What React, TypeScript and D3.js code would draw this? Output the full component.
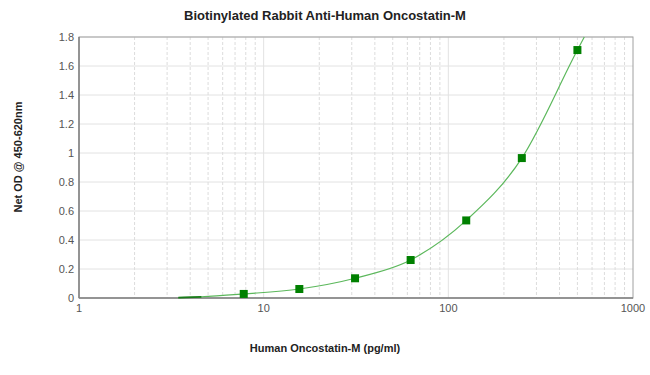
import React from "react";
import * as d3 from "d3";

const concentrations = [7.8, 15.6, 31.25, 62.5, 125, 250, 500];
const odValues = [0.028, 0.062, 0.136, 0.262, 0.535, 0.965, 1.71];
const curveX = [3.45, 4.6, 7.8, 15.6, 31.25, 62.5, 125, 250, 500, 545];
const curveY = [0.003, 0.008, 0.028, 0.062, 0.136, 0.262, 0.535, 0.965, 1.71, 1.8];
const yTicks = [0, 0.2, 0.4, 0.6, 0.8, 1, 1.2, 1.4, 1.6, 1.8];
const xMajor = [1, 10, 100, 1000];

const W = 650, H = 375;
const L = 79, R = 633, T = 37, B = 298;

export default function App() {
  const x = d3.scaleLog().domain([1, 1000]).range([L, R]);
  const y = d3.scaleLinear().domain([0, 1.8]).range([B, T]);
  const minors: number[] = [];
  for (const d of [1, 10, 100]) for (let k = 2; k <= 9; k++) minors.push(d * k);
  const line = d3
    .line<[number, number]>()
    .x((d) => x(d[0]))
    .y((d) => y(d[1]))
    .curve(d3.curveMonotoneX);
  const pts: [number, number][] = curveX.map((v, i) => [v, curveY[i]]);
  const font = "'Liberation Sans', Arial, sans-serif";
  return (
    <svg width={W} height={H} style={{ position: "absolute", left: 0, top: 0 }} fontFamily={font}>
      <rect width={W} height={H} fill="#fff" />
      {yTicks.slice(1).map((t) => (
        <line key={"h" + t} x1={L} x2={R} y1={y(t)} y2={y(t)} stroke="#e2e2e2" strokeWidth={1} />
      ))}
      {minors.map((m) => (
        <line key={"m" + m} x1={x(m)} x2={x(m)} y1={T} y2={B} stroke="#dcdcdc" strokeDasharray="3,2" strokeWidth={1} />
      ))}
      {xMajor.slice(1, 3).map((m) => (
        <line key={"M" + m} x1={x(m)} x2={x(m)} y1={T} y2={B} stroke="#e2e2e2" strokeWidth={1} />
      ))}
      <rect x={L} y={T} width={R - L} height={B - T} fill="none" stroke="#a0a0a0" strokeWidth={1} />
      <line x1={L} x2={R} y1={B} y2={B} stroke="#808080" strokeWidth={1.5} />
      <line x1={L} x2={L} y1={T} y2={B} stroke="#808080" strokeWidth={1.5} />
      <path d={line(pts) || ""} fill="none" stroke="#5cb85c" strokeWidth={1.2} />
      <path d={line(pts.slice(0, 2)) || ""} fill="none" stroke="#1a7a1a" strokeWidth={1.8} />
      {concentrations.map((c, i) => (
        <rect key={"p" + c} x={x(c) - 4} y={y(odValues[i]) - 4} width={8} height={8} fill="#008000" />
      ))}
      {yTicks.map((t) => (
        <text key={"yt" + t} x={L - 5} y={y(t) + 4} textAnchor="end" fontSize={11} fill="#555">
          {t}
        </text>
      ))}
      {xMajor.map((m) => (
        <text key={"xt" + m} x={x(m)} y={B + 14} textAnchor="middle" fontSize={11} fill="#555">
          {m}
        </text>
      ))}
      <text x={325} y={20} textAnchor="middle" fontSize={13} fontWeight="bold" fill="#222">
        Biotinylated Rabbit Anti-Human Oncostatin-M
      </text>
      <text x={325} y={352} textAnchor="middle" fontSize={11} fontWeight="bold" fill="#222">
        Human Oncostatin-M (pg/ml)
      </text>
      <text
        transform={`translate(22,157) rotate(-90)`}
        textAnchor="middle"
        fontSize={11}
        fontWeight="bold"
        fill="#222"
      >
        Net OD @ 450-620nm
      </text>
    </svg>
  );
}
